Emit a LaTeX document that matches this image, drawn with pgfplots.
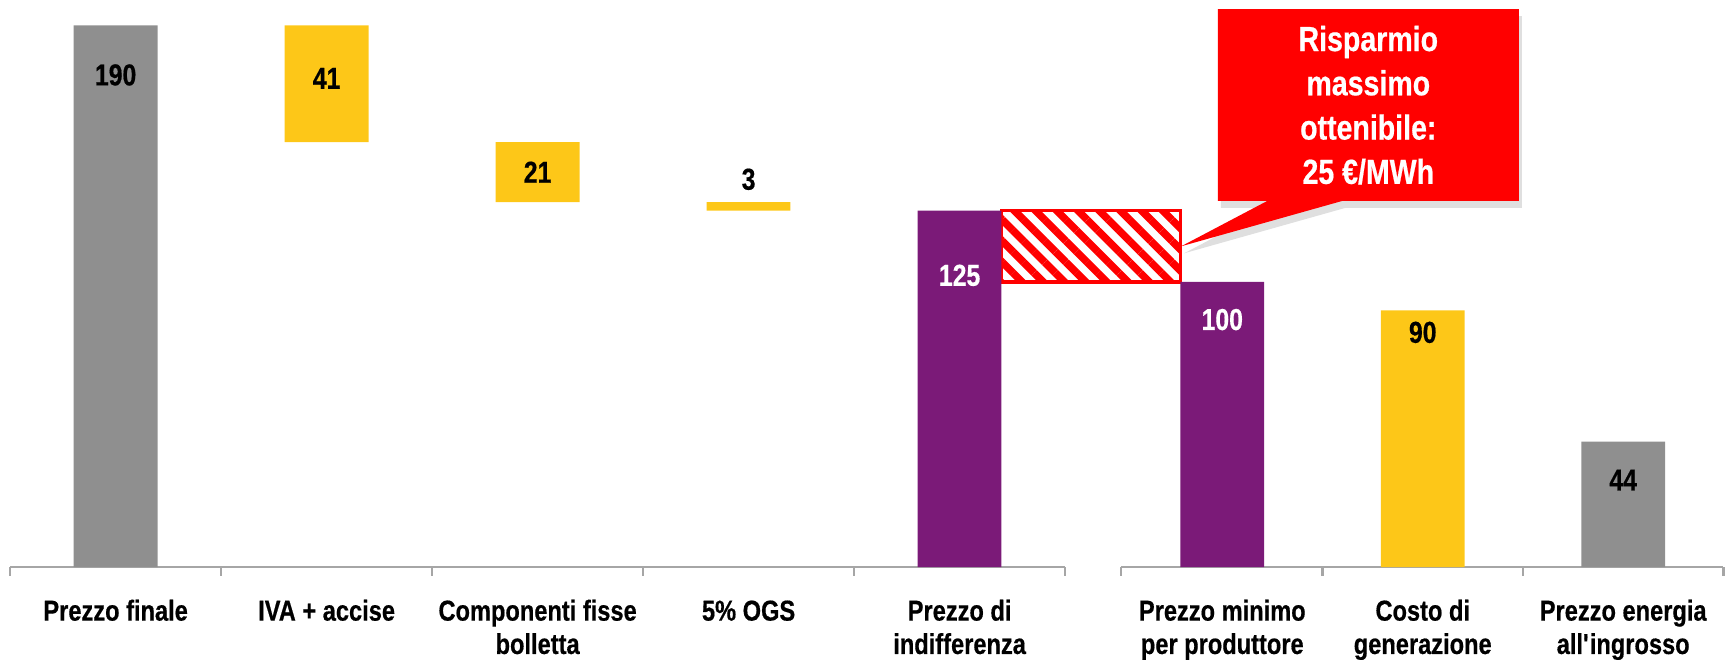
\documentclass[border=0pt]{standalone}
\usepackage{pgfplots}
\pgfplotsset{compat=1.18}
\usepackage{pgfplotstable}
\usepackage{fontspec}
\setmainfont{Liberation Sans}[FakeStretch=0.82, BoldFeatures={FakeBold=0.5}]
\usetikzlibrary{patterns.meta,shadows}

\definecolor{barGray}{HTML}{8F8F8F}
\definecolor{barYellow}{HTML}{FDC718}
\definecolor{barPurple}{HTML}{7B1A78}
\definecolor{axisGray}{HTML}{A6A6A6}
\definecolor{calloutRed}{HTML}{FF0000}

% waterfall: invisible base, then the visible part split by colour
\pgfplotstableread{
x      base gray yellow purple
0      0    190  0      0
1      149  0    41     0
2      128  0    21     0
3      125  0    3      0
4      0    0    0      125
5.245  0    0    0      100
6.195  0    0    90     0
7.145  0    44   0      0
}\bars

\tikzset{catlabel/.style={anchor=base, font=\bfseries\fontsize{8.2}{10}\selectfont},
         vallabel/.style={font=\bfseries\fontsize{8.6}{10}\selectfont},
         tick/.style={axisGray, line width=0.7pt}}

\begin{document}
\begin{tikzpicture}
\begin{axis}[
  x=21.1mm, y=0.2851mm,
  xmin=-0.548, xmax=7.637, ymin=-32.6, ymax=198.9,
  hide axis, clip=false,
  ybar stacked, bar width=0.397,
]
\addplot[draw=none, fill=none] table[x=x, y=base] {\bars};
\addplot[draw=none, fill=barGray] table[x=x, y=gray] {\bars};
\addplot[draw=none, fill=barYellow] table[x=x, y=yellow] {\bars};
\addplot[draw=none, fill=barPurple] table[x=x, y=purple] {\bars};

% gap between indifference price and producer minimum price (125 -> 100)
\addplot[stack plots=false, sharp plot, draw=calloutRed, line width=0.9pt,
  pattern={Lines[angle=-45, distance=1.5mm, line width=0.75mm]},
  pattern color=calloutRed]
  coordinates {(4.1985,100) (5.0465,100) (5.0465,125) (4.1985,125)} -- cycle;

% category axis, split in two parts
\draw[tick] (axis cs:-0.5,0) -- (axis cs:4.5,0);
\draw[tick] (axis cs:4.765,0) -- (axis cs:7.62,0);
\draw[tick] (axis cs:-0.5,0) -- (axis cs:-0.5,-3.2);
\draw[tick] (axis cs:0.5,0) -- (axis cs:0.5,-3.2);
\draw[tick] (axis cs:1.5,0) -- (axis cs:1.5,-3.2);
\draw[tick] (axis cs:2.5,0) -- (axis cs:2.5,-3.2);
\draw[tick] (axis cs:3.5,0) -- (axis cs:3.5,-3.2);
\draw[tick] (axis cs:4.5,0) -- (axis cs:4.5,-3.2);
\draw[tick] (axis cs:4.765,0) -- (axis cs:4.765,-3.2);
\draw[tick] (axis cs:5.72,0) -- (axis cs:5.72,-3.2);
\draw[tick] (axis cs:6.67,0) -- (axis cs:6.67,-3.2);
\draw[tick] (axis cs:7.62,0) -- (axis cs:7.62,-3.2);

% anchor points for labels and the callout
\coordinate (v190) at (axis cs:0,172.6);
\coordinate (v41)  at (axis cs:1,171.4);
\coordinate (v21)  at (axis cs:2,138.5);
\coordinate (v3)   at (axis cs:3,136);
\coordinate (v125) at (axis cs:4,102.3);
\coordinate (v100) at (axis cs:5.245,86.8);
\coordinate (v90)  at (axis cs:6.195,82.3);
\coordinate (v44)  at (axis cs:7.145,30.5);
\coordinate (c0a) at (axis cs:0,-18.8);
\coordinate (c1a) at (axis cs:1,-18.8);
\coordinate (c2a) at (axis cs:2,-18.8);
\coordinate (c2b) at (axis cs:2,-30.5);
\coordinate (c3a) at (axis cs:3,-18.8);
\coordinate (c4a) at (axis cs:4,-18.8);
\coordinate (c4b) at (axis cs:4,-30.5);
\coordinate (c5a) at (axis cs:5.245,-18.8);
\coordinate (c5b) at (axis cs:5.245,-30.5);
\coordinate (c6a) at (axis cs:6.195,-18.8);
\coordinate (c6b) at (axis cs:6.195,-30.5);
\coordinate (c7a) at (axis cs:7.145,-18.8);
\coordinate (c7b) at (axis cs:7.145,-30.5);
\coordinate (k1) at (axis cs:5.224,195.7);
\coordinate (k2) at (axis cs:6.650,195.7);
\coordinate (k3) at (axis cs:6.650,128.4);
\coordinate (k4) at (axis cs:5.813,128.4);
\coordinate (k5) at (axis cs:5.05,112.5);
\coordinate (k6) at (axis cs:5.458,128.4);
\coordinate (k7) at (axis cs:5.224,128.4);
\coordinate (kt) at (axis cs:5.937,162);

\coordinate (BL) at (axis cs:-0.548,-32.6);
\coordinate (TR) at (axis cs:7.637,198.9);
\end{axis}

% callout
\fill[calloutRed, drop shadow={opacity=0.25, shadow xshift=0.3mm, shadow yshift=-0.7mm}]
  (k1) -- (k2) -- (k3) -- (k4) -- (k5) -- (k6) -- (k7) -- cycle;
\node[white, align=center, font=\bfseries\fontsize{9.9}{12.6}\selectfont]
  at (kt) {Risparmio\\massimo\\ottenibile:\\25 €/MWh};

% value labels
\node[vallabel] at (v190) {190};
\node[vallabel] at (v41) {41};
\node[vallabel] at (v21) {21};
\node[vallabel] at (v3) {3};
\node[vallabel, white] at (v125) {125};
\node[vallabel, white] at (v100) {100};
\node[vallabel] at (v90) {90};
\node[vallabel] at (v44) {44};

% category labels
\node[catlabel] at (c0a) {Prezzo finale};
\node[catlabel] at (c1a) {IVA + accise};
\node[catlabel] at (c2a) {Componenti fisse};
\node[catlabel] at (c2b) {bolletta};
\node[catlabel] at (c3a) {5\% OGS};
\node[catlabel] at (c4a) {Prezzo di};
\node[catlabel] at (c4b) {indifferenza};
\node[catlabel] at (c5a) {Prezzo minimo};
\node[catlabel] at (c5b) {per produttore};
\node[catlabel] at (c6a) {Costo di};
\node[catlabel] at (c6b) {generazione};
\node[catlabel] at (c7a) {Prezzo energia};
\node[catlabel] at (c7b) {all\textquotesingle ingrosso};

\pgfresetboundingbox
\path[use as bounding box] (BL) rectangle (TR);
\end{tikzpicture}
\end{document}
